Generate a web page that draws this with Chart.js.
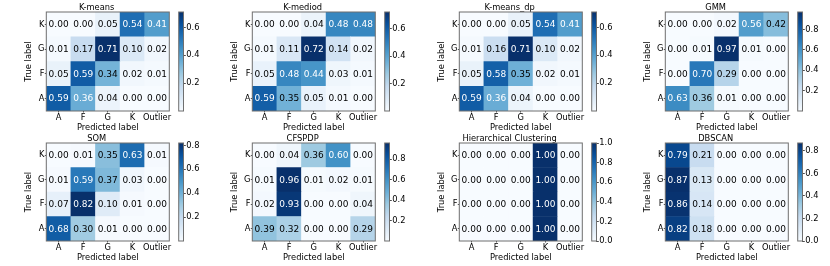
<!DOCTYPE html>
<html>
<head>
<meta charset="utf-8">
<script src="https://cdn.jsdelivr.net/npm/chart.js@4"></script>
<style>
  body { margin: 0; background: #fff; width: 830px; height: 266px; position: relative; overflow: hidden; }
  canvas { position: absolute; }
</style>
</head>
<body>
<script>
const methods = ['K-means', 'K-mediod', 'K-means_dp', 'GMM', 'SOM', 'CFSPDP', 'Hierarchical Clustering', 'DBSCAN'];
const predictedLabels = ['A', 'F', 'G', 'K', 'Outlier'];
const trueLabels = ['A', 'F', 'G', 'K'];

// rows: true label A, F, G, K (bottom to top); columns: predicted label
const kmeans = [
  [0.59, 0.36, 0.04, 0.00, 0.00],
  [0.05, 0.59, 0.34, 0.02, 0.01],
  [0.01, 0.17, 0.71, 0.10, 0.02],
  [0.00, 0.00, 0.05, 0.54, 0.41]
];
const kmediod = [
  [0.59, 0.35, 0.05, 0.01, 0.00],
  [0.05, 0.48, 0.44, 0.03, 0.01],
  [0.01, 0.11, 0.72, 0.14, 0.02],
  [0.00, 0.00, 0.04, 0.48, 0.48]
];
const kmeansDp = [
  [0.59, 0.36, 0.04, 0.00, 0.00],
  [0.05, 0.58, 0.35, 0.02, 0.01],
  [0.01, 0.16, 0.71, 0.10, 0.02],
  [0.00, 0.00, 0.05, 0.54, 0.41]
];
const gmm = [
  [0.63, 0.36, 0.01, 0.00, 0.00],
  [0.00, 0.70, 0.29, 0.00, 0.00],
  [0.00, 0.01, 0.97, 0.01, 0.00],
  [0.00, 0.00, 0.02, 0.56, 0.42]
];
const som = [
  [0.68, 0.30, 0.01, 0.00, 0.00],
  [0.07, 0.82, 0.10, 0.01, 0.00],
  [0.01, 0.59, 0.37, 0.03, 0.00],
  [0.00, 0.01, 0.35, 0.63, 0.01]
];
const cfspdp = [
  [0.39, 0.32, 0.00, 0.00, 0.29],
  [0.02, 0.93, 0.00, 0.00, 0.04],
  [0.01, 0.96, 0.01, 0.02, 0.01],
  [0.00, 0.04, 0.36, 0.60, 0.00]
];
const hierarchical = [
  [0.00, 0.00, 0.00, 1.00, 0.00],
  [0.00, 0.00, 0.00, 1.00, 0.00],
  [0.00, 0.00, 0.00, 1.00, 0.00],
  [0.00, 0.00, 0.00, 1.00, 0.00]
];
const dbscan = [
  [0.82, 0.18, 0.00, 0.00, 0.00],
  [0.86, 0.14, 0.00, 0.00, 0.00],
  [0.87, 0.13, 0.00, 0.00, 0.00],
  [0.79, 0.21, 0.00, 0.00, 0.00]
];
const matrices = [kmeans, kmediod, kmeansDp, gmm, som, cfspdp, hierarchical, dbscan];

const colorbarTicks = [
  [0.2, 0.4, 0.6],
  [0.2, 0.4, 0.6],
  [0.2, 0.4, 0.6],
  [0.2, 0.4, 0.6, 0.8],
  [0.2, 0.4, 0.6, 0.8],
  [0.2, 0.4, 0.6, 0.8],
  [0.0, 0.2, 0.4, 0.6, 0.8, 1.0],
  [0.0, 0.2, 0.4, 0.6, 0.8]
];

// matplotlib "Blues"
const bluesStops = ['#f7fbff', '#deebf7', '#c6dbef', '#9ecae1', '#6baed6', '#4292c6', '#2171b5', '#08519c', '#08306b'];

function hexRgb(h) {
  return [parseInt(h.slice(1, 3), 16), parseInt(h.slice(3, 5), 16), parseInt(h.slice(5, 7), 16)];
}
function blues(t) {
  t = Math.max(0, Math.min(1, t));
  const p = t * (bluesStops.length - 1);
  const i = Math.min(Math.floor(p), bluesStops.length - 2);
  const f = p - i;
  const a = hexRgb(bluesStops[i]), b = hexRgb(bluesStops[i + 1]);
  const c = a.map((v, k) => Math.round(v + (b[k] - v) * f));
  return `rgb(${c[0]},${c[1]},${c[2]})`;
}

Chart.defaults.font.family = "'DejaVu Sans', sans-serif";
Chart.defaults.color = '#000';

const framePlugin = {
  id: 'frame',
  afterDatasetsDraw(chart) {
    const a = chart.chartArea;
    const ctx = chart.ctx;
    ctx.save();
    ctx.strokeStyle = '#6f6f6f';
    ctx.lineWidth = 1;
    ctx.strokeRect(a.left, a.top, a.right - a.left, a.bottom - a.top);
    ctx.restore();
  }
};

const cellText = {
  id: 'cellText',
  afterDatasetsDraw(chart) {
    const ctx = chart.ctx;
    const thresh = chart.options.plugins.cellText.thresh;
    ctx.save();
    ctx.font = "9px 'DejaVu Sans'";
    ctx.textAlign = 'center';
    ctx.textBaseline = 'middle';
    chart.data.datasets.forEach((ds, di) => {
      chart.getDatasetMeta(di).data.forEach((el, j) => {
        const v = ds.values[j];
        ctx.fillStyle = v > thresh ? '#fff' : '#000';
        ctx.fillText(v.toFixed(2), el.x, (el.y + el.base) / 2 + 0.5);
      });
    });
    ctx.restore();
  }
};

const colW = 206.3;
const rows = [
  { top: 0, axTop: 12, axBottom: 111 },
  { top: 130.7, axTop: 142.7, axBottom: 240.5 }
];

function addCanvas(left, top, w, h) {
  const c = document.createElement('canvas');
  c.width = Math.round(w);
  c.height = Math.round(h);
  c.style.left = left + 'px';
  c.style.top = top + 'px';
  c.style.width = Math.round(w) + 'px';
  c.style.height = Math.round(h) + 'px';
  document.body.appendChild(c);
  return c;
}

methods.forEach((name, m) => {
  const matrix = matrices[m];
  const col = m % 4;
  const row = rows[Math.floor(m / 4)];
  const flat = matrix.flat();
  const vmin = Math.min(...flat), vmax = Math.max(...flat);
  const thresh = (vmin + vmax) / 2;
  const left = col * colW;

  // heatmap
  const hCanvas = addCanvas(left, row.top, 178, row.axBottom - row.top + 22);
  new Chart(hCanvas, {
    type: 'bar',
    data: {
      labels: predictedLabels,
      datasets: matrix.map((vals, r) => ({
        data: vals.map(() => [r, r + 1]),
        values: vals,
        backgroundColor: vals.map(v => blues((v - vmin) / (vmax - vmin))),
        borderWidth: 0,
        grouped: false,
        barPercentage: 1,
        categoryPercentage: 1
      }))
    },
    options: {
      responsive: false,
      animation: false,
      devicePixelRatio: 1,
      layout: { padding: { left: 24, right: 8.7, top: 0, bottom: 0 } },
      plugins: {
        legend: { display: false },
        tooltip: { enabled: false },
        title: {
          display: true, text: name, color: '#000',
          font: { size: 8.3, weight: 'normal', lineHeight: 1.1 },
          padding: { top: 2.87, bottom: 0 }
        },
        cellText: { thresh }
      },
      scales: {
        x: {
          afterFit(s) { s.height = 22; },
          grid: { display: true, drawOnChartArea: false, offset: false, tickLength: 1.5, color: '#222', lineWidth: 0.8 },
          border: { display: false },
          ticks: { autoSkip: false, maxRotation: 0, minRotation: 0, padding: 0, font: { size: 8.3, lineHeight: 1.2 } },
          title: { display: true, text: 'Predicted label', font: { size: 8.3, lineHeight: 1.2 }, padding: 0 }
        },
        y: {
          type: 'linear', min: 0, max: 4,
          afterFit(s) { s.width = 22.3; },
          afterBuildTicks(s) { s.ticks = trueLabels.map((_, i) => ({ value: i + 0.5 })); },
          grid: { display: true, drawOnChartArea: false, tickLength: 1.5, color: '#222', lineWidth: 0.8 },
          border: { display: false },
          ticks: { padding: 0.3, font: { size: 8.3, lineHeight: 1.2 }, callback: (v, i) => trueLabels[i] },
          title: { display: true, text: 'True label', font: { size: 8.3, lineHeight: 1.2 }, padding: 0 }
        }
      }
    },
    plugins: [cellText, framePlugin]
  });

  // colorbar
  const cbLeft = left + 172;
  const cCanvas = addCanvas(cbLeft, row.top, 37, row.axBottom - row.top + 6);
  new Chart(cCanvas, {
    type: 'bar',
    data: {
      labels: [''],
      datasets: [{
        data: [[vmin, vmax]],
        backgroundColor(ctx) {
          const a = ctx.chart.chartArea;
          if (!a) return null;
          const g = ctx.chart.ctx.createLinearGradient(0, a.bottom, 0, a.top);
          bluesStops.forEach((c, i) => g.addColorStop(i / (bluesStops.length - 1), c));
          return g;
        },
        borderWidth: 0,
        barPercentage: 1,
        categoryPercentage: 1
      }]
    },
    options: {
      responsive: false,
      animation: false,
      devicePixelRatio: 1,
      layout: { padding: { left: 6.7, right: 0, top: row.axTop - row.top, bottom: 6 } },
      plugins: { legend: { display: false }, tooltip: { enabled: false } },
      scales: {
        x: { display: false },
        y: {
          position: 'right', min: vmin, max: vmax,
          afterFit(s) { s.width = 25.5; },
          afterBuildTicks(s) { s.ticks = colorbarTicks[m].map(v => ({ value: v })); },
          grid: { display: true, drawOnChartArea: false, tickLength: 2.3, color: '#222', lineWidth: 0.8 },
          border: { display: false },
          ticks: { padding: 0.5, font: { size: 8.3, lineHeight: 1.2 }, callback: v => v.toFixed(1) }
        }
      }
    },
    plugins: [framePlugin]
  });
});
</script>
</body>
</html>
